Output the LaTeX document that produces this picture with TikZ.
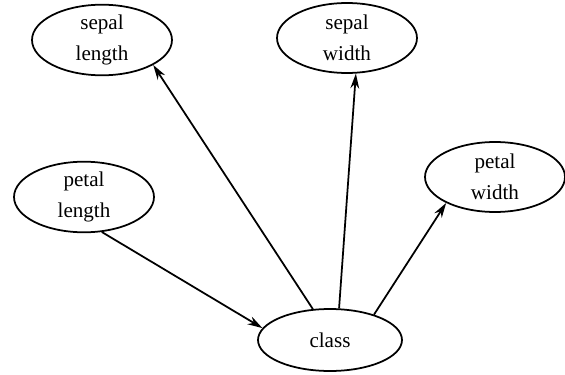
\documentclass[tikz,border=0pt]{standalone}
\usepackage{fontspec}
\setmainfont{Liberation Serif}
\usetikzlibrary{shapes.geometric, arrows.meta}
\tikzstyle{feature} = [ellipse, draw=black, line width=1pt, inner sep=0pt, align=center,
                       minimum width=2.8cm, minimum height=1.4cm,
                       font=\fontsize{12}{17.5}\selectfont]
\tikzstyle{arrow} = [line width=1pt, -{Stealth[length=8.5pt, width=5pt]}, draw=black]

\begin{document}
\begin{tikzpicture}[x=0.02cm, y=-0.02cm]
  \useasboundingbox (0,0) rectangle (565,375);
  % the five attributes
  \node (sl)[feature] at (102,40) {sepal\\length};
  \node (sw)[feature] at (347,38) {sepal\\width};
  \node (pl)[feature] at (84,197) {petal\\length};
  \node (pw)[feature] at (495,177) {petal\\width};
  \node (cl)[feature, minimum width=2.88cm, minimum height=1.24cm] at (330,340) {class};
  % dependencies
  \draw [arrow] (cl.119) -- (sl.-26);
  \draw [arrow] (cl.74) -- (sw.-76);
  \draw [arrow] (cl.30) -- (pw.208);
  \draw [arrow] (pl.-63) -- (cl.170);
\end{tikzpicture}
\end{document}
